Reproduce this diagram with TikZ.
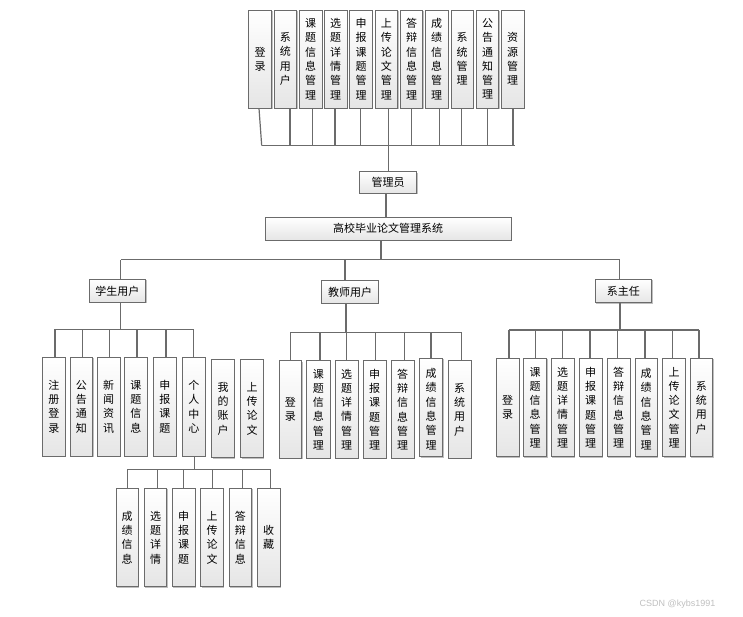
\documentclass[tikz,border=0pt]{standalone}
\usepackage{fontspec}
\newfontfamily\cjk{Noto Sans CJK SC}
\setmainfont{Liberation Sans}
\usetikzlibrary{shadows}
\tikzset{
  bx/.style={draw=black!58, line width=0.9pt, top color=white, bottom color=black!10, inner sep=0pt,
    align=center, font=\cjk\fontsize{11}{14.3}\selectfont,
    drop shadow={shadow xshift=1pt, shadow yshift=-1pt, opacity=0.25, fill=black}},
  ln/.style={draw=black!58, line width=1.2pt},
}
\newcommand\bx[6]{\node[bx, minimum width={(#4-#2)*1pt}, minimum height={(#5-#3)*1pt}] (#1) at ({(#2+#4)/2},{(#3+#5)/2}) {#6};}
\begin{document}
\begin{tikzpicture}[x=1pt,y=-1pt]
\useasboundingbox (0,0) rectangle (743,616);
% ---------- top row ----------
\bx{t1}{248.3}{10}{271.7}{108}{登\\录}
\bx{t2}{274}{10}{296.7}{108}{系\\统\\用\\户}
\bx{t3}{299.3}{10}{322}{108}{课\\题\\信\\息\\管\\理}
\bx{t4}{324.3}{10}{347}{108}{选\\题\\详\\情\\管\\理}
\bx{t5}{349.7}{10}{372.3}{108}{申\\报\\课\\题\\管\\理}
\bx{t6}{375}{10}{397.7}{108}{上\\传\\论\\文\\管\\理}
\bx{t7}{400.3}{10}{422.7}{108}{答\\辩\\信\\息\\管\\理}
\bx{t8}{425.3}{10}{448}{108}{成\\绩\\信\\息\\管\\理}
\bx{t9}{451}{10}{473.3}{108}{系\\统\\管\\理}
\bx{t10}{476.3}{10}{498.7}{108}{公\\告\\通\\知\\管\\理}
\bx{t11}{501.3}{10}{524}{108}{资\\源\\管\\理}
\coordinate (tbusL) at (261.7,145.7);
\coordinate (tbusR) at (515,145.7);
\draw[ln] (tbusL) -- (tbusR);
\draw[ln] ([xshift=-1pt]t1.south) -- (tbusL);
\foreach \n/\s in {t2/4.6,t3/1.6,t4/-0.6,t5/-0.7,t6/2.3,t7/0.2,t8/2.6,t9/-0.8,t10/0,t11/0.3}
  \draw[ln] ([xshift=\s pt]\n.south) -- ([xshift=\s pt]\n.south |- tbusL);
% ---------- admin & system ----------
\bx{gly}{359.3}{171.7}{416.7}{193.3}{管理员}
\bx{sys}{265}{217.3}{511}{240}{高校毕业论文管理系统}
\draw[ln] ([xshift=0.7pt]gly.north) -- ([xshift=0.7pt]gly.north |- tbusL);
\draw[ln] ([xshift=-2pt]gly.south) -- ([xshift=-2pt]gly.south |- sys.north);
% ---------- second level ----------
\bx{stu}{89}{279.3}{145.7}{302.3}{学生用户}
\bx{tea}{321.7}{280.7}{378.3}{303.3}{教师用户}
\bx{dir}{595}{279.3}{651.7}{302.7}{系主任}
\coordinate (mbus) at (381,259.5);
\draw[ln] ([xshift=-7pt]sys.south) -- ([xshift=-7pt]sys.south |- mbus);
\draw[ln] ([xshift=3.4pt]stu.north |- mbus) -- ([xshift=-3.7pt]dir.north |- mbus);
\draw[ln] ([xshift=3.4pt]stu.north) -- ([xshift=3.4pt]stu.north |- mbus);
\draw[ln] ([xshift=-5pt]tea.north) -- ([xshift=-5pt]tea.north |- mbus);
\draw[ln] ([xshift=-3.7pt]dir.north) -- ([xshift=-3.7pt]dir.north |- mbus);
% ---------- student children ----------
\bx{s1}{42.7}{357.3}{65}{456}{注\\册\\登\\录}
\bx{s2}{70}{357.3}{92.7}{456}{公\\告\\通\\知}
\bx{s3}{97.3}{357.3}{120}{456}{新\\闻\\资\\讯}
\bx{s4}{124.7}{357.3}{147}{456}{课\\题\\信\\息}
\bx{s5}{153.7}{357.3}{176}{456}{申\\报\\课\\题}
\bx{s6}{182.7}{357.3}{205}{456}{个\\人\\中\\心}
\bx{s7}{211.7}{359.3}{234.3}{457.7}{我\\的\\账\\户}
\bx{s8}{240.7}{359.3}{263.3}{457.7}{上\\传\\论\\文}
\coordinate (sbus) at (120.7,329.3);
\draw[ln] ([xshift=1pt]s1.north |- sbus) -- (s6.north |- sbus);
\draw[ln] ([xshift=3.4pt]stu.south) -- ([xshift=3.4pt]stu.south |- sbus);
\foreach \n in {s1,s2,s3,s4,s5}
  \draw[ln] ([xshift=1.2pt]\n.north) -- ([xshift=1.2pt]\n.north |- sbus);
\draw[ln] (s6.north) -- (s6.north |- sbus);
% ---------- personal centre children ----------
\bx{p1}{116}{488.3}{138.3}{586.7}{成\\绩\\信\\息}
\bx{p2}{144.3}{488.3}{166.7}{586.7}{选\\题\\详\\情}
\bx{p3}{172.3}{488.3}{195}{586.7}{申\\报\\课\\题}
\bx{p4}{200.7}{488.3}{223.3}{586.7}{上\\传\\论\\文}
\bx{p5}{229}{488.3}{251.7}{586.7}{答\\辩\\信\\息}
\bx{p6}{257.3}{488.3}{280}{586.7}{收\\藏}
\coordinate (pbus) at (195,469.3);
\draw[ln] (p1.north |- pbus) -- ([xshift=2pt]p6.north |- pbus);
\draw[ln] ([xshift=1pt]s6.south) -- ([xshift=1pt]s6.south |- pbus);
\foreach \n/\s in {p1/0.5,p2/2,p3/-0.4,p4/0.3,p5/2,p6/2}
  \draw[ln] ([xshift=\s pt]\n.north) -- ([xshift=\s pt]\n.north |- pbus);
% ---------- teacher children ----------
\bx{c1}{279}{360.7}{301.7}{458.3}{登\\录}
\bx{c2}{306.7}{360.7}{330}{458.3}{课\\题\\信\\息\\管\\理}
\bx{c3}{335.3}{360.7}{358}{458.3}{选\\题\\详\\情\\管\\理}
\bx{c4}{363.3}{360.7}{386}{458.3}{申\\报\\课\\题\\管\\理}
\bx{c5}{391.3}{360.7}{414}{458.3}{答\\辩\\信\\息\\管\\理}
\bx{c6}{419.7}{358.3}{442.7}{456.7}{\\[-2pt]成\\绩\\信\\息\\管\\理}
\bx{c7}{448.3}{360.7}{471}{458.3}{系\\统\\用\\户}
\coordinate (cbus) at (346,332.3);
\draw[ln] (c1.north |- cbus) -- ([xshift=2pt]c7.north |- cbus);
\draw[ln] ([xshift=-4pt]tea.south) -- ([xshift=-4pt]tea.south |- cbus);
\foreach \n/\s in {c1/0.4,c2/1.7,c3/0,c4/0.6,c5/1.6,c6/-0.2,c7/2}
  \draw[ln] ([xshift=\s pt]\n.north) -- ([xshift=\s pt]\n.north |- cbus);
% ---------- director children ----------
\bx{d1}{496}{358.3}{519.3}{456.7}{登\\录}
\bx{d2}{523.3}{358.3}{546.7}{456.7}{课\\题\\信\\息\\管\\理}
\bx{d3}{551}{358.3}{574.3}{456.7}{选\\题\\详\\情\\管\\理}
\bx{d4}{579}{358.3}{602}{456.7}{申\\报\\课\\题\\管\\理}
\bx{d5}{607}{358.3}{630}{456.7}{答\\辩\\信\\息\\管\\理}
\bx{d6}{635}{358.3}{657.3}{456.7}{\\[-2pt]成\\绩\\信\\息\\管\\理}
\bx{d7}{662.7}{358.3}{685.3}{456.7}{上\\传\\论\\文\\管\\理}
\bx{d8}{690}{358.3}{712.7}{456.7}{系\\统\\用\\户}
\coordinate (dbus) at (620,330);
\draw[ln] ([xshift=1.3pt]d1.north |- dbus) -- ([xshift=-2.3pt]d8.north |- dbus);
\draw[ln] ([xshift=-3.3pt]dir.south) -- ([xshift=-3.3pt]dir.south |- dbus);
\foreach \n/\s in {d1/1.3,d2/0.7,d3/0,d4/-0.5,d5/-0.8,d6/-1.2,d7/-1.7,d8/-2.3}
  \draw[ln] ([xshift=\s pt]\n.north) -- ([xshift=\s pt]\n.north |- dbus);
% ---------- watermark ----------
\node[font=\fontsize{9}{10}\selectfont, text=black!25, inner sep=0pt] (wm) at (677.5,604) {CSDN @kybs1991};
\end{tikzpicture}
\end{document}
